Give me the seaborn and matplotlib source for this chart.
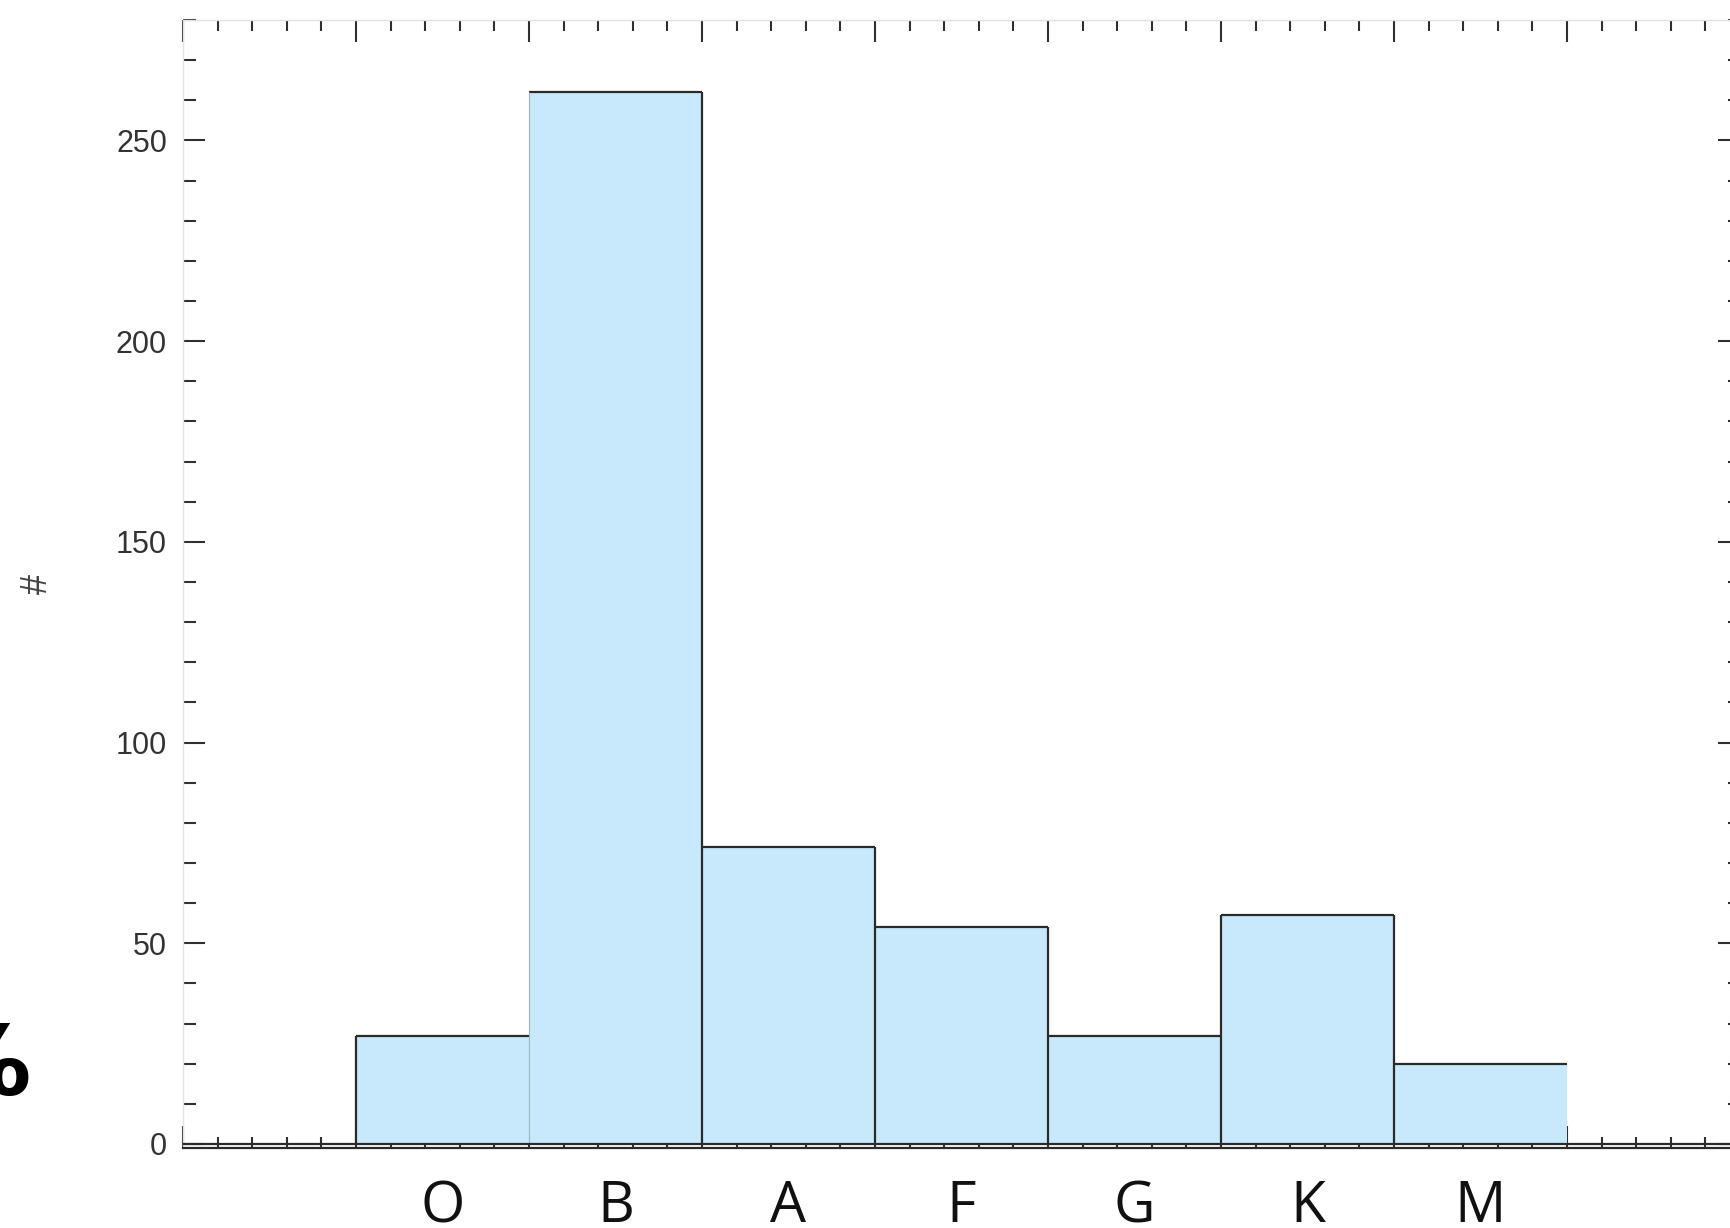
import numpy as np
import pandas as pd
import matplotlib
matplotlib.use("Agg")
import matplotlib.pyplot as plt
import seaborn as sns
from matplotlib.ticker import FixedLocator, MultipleLocator

# Number of stars per spectral class
spectral_types = ["O", "B", "A", "F", "G", "K", "M"]
counts = [27, 262, 74, 54, 27, 57, 20]

y_major_step = 50
y_minor_step = 10

fill_color = "#c8e9fb"
line_color = "#2a2a2a"
tick_color = "#303030"

sns.set_theme(style="white")
plt.rcParams["font.family"] = ["Liberation Sans", "DejaVu Sans"]

df = pd.DataFrame({"type": spectral_types, "count": counts})

fig = plt.figure(figsize=(17.3, 12.28), dpi=100)
ax = fig.add_axes([183 / 1730, 80 / 1228, 1557 / 1730, 1128 / 1228])

# Filled histogram columns
sns.barplot(data=df, x="type", y="count", order=spectral_types,
            color=fill_color, saturation=1, width=1.0, linewidth=0,
            ax=ax, zorder=1)

# Step outline on top of the fill
pos = np.arange(len(counts))
lefts, rights = pos - 0.5, pos + 0.5
ax.hlines(counts, lefts, rights, color=line_color, lw=1.6, zorder=3)
ax.vlines(lefts[0], 0, counts[0], color=line_color, lw=1.6, zorder=3)
ax.vlines(lefts[1], 0, counts[1], color="#9fb3bf", lw=0.8, zorder=3)
for i in range(1, len(counts) - 1):
    ax.vlines(rights[i], 0, max(counts[i], counts[i + 1]),
              color=line_color, lw=1.6, zorder=3)
ax.axhline(0, color=line_color, lw=1.6, zorder=3)

ax.set_xlim(-1.5, 7.5)
ax.set_ylim(-1, 280)

# Frame ticks: bin edges with five subdivisions, pointing inward
ax.set_axisbelow(True)
ax.xaxis.set_major_locator(FixedLocator(np.arange(-1.5, 7.51, 1.0)))
ax.xaxis.set_minor_locator(FixedLocator(np.arange(-1.5, 7.51, 0.2)))
ax.tick_params(axis="x", which="both", direction="in", top=True, bottom=True,
               labelbottom=False, labeltop=False, color=tick_color, width=1.5)
ax.tick_params(axis="x", which="major", length=15.5)
ax.tick_params(axis="x", which="minor", length=8)

ax.yaxis.set_major_locator(MultipleLocator(y_major_step))
ax.yaxis.set_minor_locator(MultipleLocator(y_minor_step))
ax.tick_params(axis="y", which="both", direction="in", left=True, right=True,
               color=tick_color, width=1.5, labelsize=22, labelcolor="#333333",
               pad=11.5)
ax.tick_params(axis="y", which="major", length=15.5)
ax.tick_params(axis="y", which="minor", length=9)

ax.set_xlabel("")
ax.set_ylabel("#", fontsize=26, color="#444444")
ax.yaxis.set_label_coords(-0.082, 0.5)

for side in ("left", "top", "right"):
    ax.spines[side].set_color("#e2e2e2")
    ax.spines[side].set_linewidth(1.0)
ax.spines["bottom"].set_color(line_color)
ax.spines["bottom"].set_linewidth(1.6)

# Spectral class labels centred under each column
sec = ax.secondary_xaxis("bottom")
sec.set_xticks(pos, spectral_types)
sec.tick_params(length=0, pad=22.5, labelsize=41, labelcolor="#111111")
for lab in sec.get_xticklabels():
    lab.set_fontfamily(["Open Sans", "DejaVu Sans"])
sec.spines["bottom"].set_visible(False)

fig.text(31 / 1730, 1 - 1095 / 1228, "%", fontsize=70, fontweight="bold",
         ha="right", va="baseline", color="black",
         family=["DejaVu Sans"])

fig.savefig("out.png", dpi=100)
